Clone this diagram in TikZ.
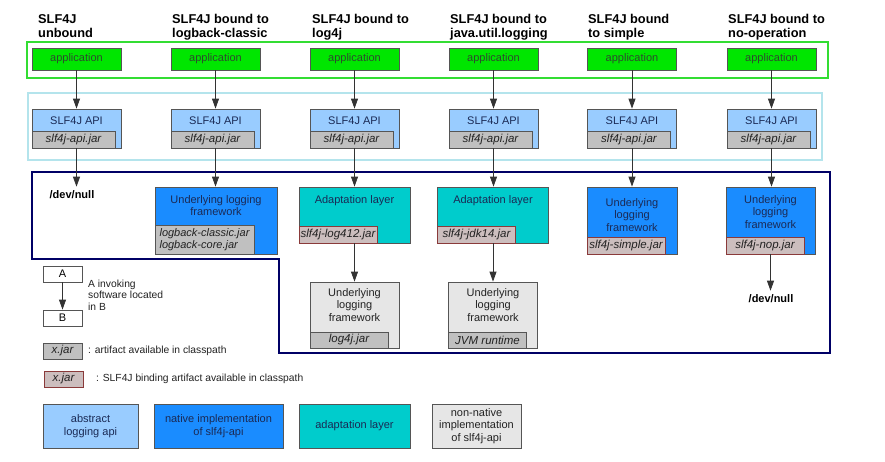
\documentclass[tikz,border=0pt]{standalone}
\usepackage{fontspec}
\setmainfont{Liberation Sans}
\usetikzlibrary{arrows.meta}

\definecolor{app-green}{HTML}{00E600}
\definecolor{app-frame}{HTML}{33DD33}
\definecolor{app-text}{HTML}{2E4A2E}
\definecolor{api-blue}{HTML}{99CCFF}
\definecolor{api-frame}{HTML}{B4E4EC}
\definecolor{native-blue}{HTML}{1A8CFF}
\definecolor{adapt-teal}{HTML}{00CCCC}
\definecolor{nonnative-grey}{HTML}{E6E6E6}
\definecolor{jar-grey}{HTML}{C0C0C0}
\definecolor{binding-pink}{HTML}{CCBEBE}
\definecolor{binding-edge}{HTML}{8A3A3A}
\definecolor{impl-frame}{HTML}{000066}
\definecolor{box-text}{HTML}{1A2A55}
\definecolor{box-edge}{HTML}{555555}
\definecolor{plain-text}{HTML}{222222}

\tikzstyle{box}=[rectangle, inner sep=0pt, line width=0.8pt, font=\fontsize{11}{12.5}\selectfont, align=center]
\tikzstyle{app-box}=[box, fill=app-green, draw=box-edge, minimum width=89pt, minimum height=22pt, text=app-text]
\tikzstyle{api-box}=[box, fill=api-blue, draw=box-edge, minimum width=89pt, minimum height=39pt]
\tikzstyle{native-box}=[box, fill=native-blue, draw=box-edge, minimum height=67pt]
\tikzstyle{adapt-box}=[box, fill=adapt-teal, draw=box-edge, minimum width=111pt, minimum height=56pt]
\tikzstyle{nonnative-box}=[box, fill=nonnative-grey, draw=box-edge, minimum width=89pt, minimum height=66pt]
\tikzstyle{plain-box}=[box, fill=white, draw=box-edge, minimum width=39pt, minimum height=16pt]
\tikzstyle{jar}=[box, font=\fontsize{11.5}{12}\selectfont\itshape, fill=jar-grey, draw=box-edge, minimum width=78pt, minimum height=17pt, anchor=south west, text=plain-text]
\tikzstyle{binding-jar}=[jar, fill=binding-pink, draw=binding-edge]
\tikzstyle{box-title}=[anchor=north, inner sep=0pt, yshift=-8.5pt, align=center, font=\fontsize{11}{12.5}\selectfont, text=box-text]
\tikzstyle{header}=[anchor=north west, inner sep=0pt, align=left, font=\fontsize{12.8}{13.5}\selectfont\bfseries]
\tikzstyle{dev-null}=[inner sep=4pt, font=\fontsize{11}{12}\selectfont\bfseries]
\tikzstyle{legend-text}=[anchor=west, inner sep=0pt, align=left, font=\fontsize{10.3}{11.5}\selectfont, text=plain-text]
\tikzstyle{call}=[draw=black!80, line width=0.8pt, -{Triangle[length=10pt,width=7pt]}]

\begin{document}
\begin{tikzpicture}[x=1pt, y=-1pt]
      \useasboundingbox[fill=white] (0,0) rectangle (885,461);

      % frames
      \draw[app-frame, line width=2pt] (27,42) rectangle (828,78);
      \draw[api-frame, line width=1.5pt] (28,93) rectangle (822,160);
      \draw[impl-frame, line width=2pt] (32,172) -- (830,172) -- (830,353) -- (279,353) -- (279,259) -- (32,259) -- cycle;

      % headers
      \node (head-1) at ( 38,14.5) [header] {SLF4J\\unbound};
      \node (head-2) at (172,14.5) [header] {SLF4J bound to\\logback-classic};
      \node (head-3) at (312,14.5) [header] {SLF4J bound to\\log4j};
      \node (head-4) at (450,14.5) [header] {SLF4J bound to\\java.util.logging};
      \node (head-5) at (588,14.5) [header] {SLF4J bound\\to simple};
      \node (head-6) at (728,14.5) [header] {SLF4J bound to\\no-operation};

      % application row
      \node (app-1) at ( 76.5,59) [app-box] {application};
      \node (app-2) at (215.5,59) [app-box] {application};
      \node (app-3) at (354.5,59) [app-box] {application};
      \node (app-4) at (493.5,59) [app-box] {application};
      \node (app-5) at (632,  59) [app-box] {application};
      \node (app-6) at (771.5,59) [app-box] {application};

      % slf4j api row
      \node (api-1) at ( 76.5,128.5) [api-box, label={[box-title]north:SLF4J API}] {};
      \node (api-2) at (215.5,128.5) [api-box, label={[box-title]north:SLF4J API}] {};
      \node (api-3) at (354.5,128.5) [api-box, label={[box-title]north:SLF4J API}] {};
      \node (api-4) at (493.5,128.5) [api-box, label={[box-title]north:SLF4J API}] {};
      \node (api-5) at (632,  128.5) [api-box, label={[box-title]north:SLF4J API}] {};
      \node (api-6) at (771.5,128.5) [api-box, label={[box-title]north:SLF4J API}] {};
      \node (apijar-1) at (api-1.south west) [jar, minimum width=83pt] {slf4j-api.jar};
      \node (apijar-2) at (api-2.south west) [jar, minimum width=83pt] {slf4j-api.jar};
      \node (apijar-3) at (api-3.south west) [jar, minimum width=83pt] {slf4j-api.jar};
      \node (apijar-4) at (api-4.south west) [jar, minimum width=83pt] {slf4j-api.jar};
      \node (apijar-5) at (api-5.south west) [jar, minimum width=83pt] {slf4j-api.jar};
      \node (apijar-6) at (api-6.south west) [jar, minimum width=83pt] {slf4j-api.jar};

      % bindings
      \node (devnull-1) at (72,195) [dev-null] {/dev/null};

      \node (native-2) at (216,220.5) [native-box, minimum width=122pt, label={[box-title]north:Underlying logging\\framework}] {};
      \node (nativejar-2) at (native-2.south west) [jar, font=\fontsize{11}{12}\selectfont\itshape, minimum width=99pt, minimum height=29pt, align=left] {logback-classic.jar\\logback-core.jar};

      \node (adapt-3) at (354.5,215) [adapt-box, label={[box-title]north:Adaptation layer}] {};
      \node (adaptjar-3) at (adapt-3.south west) [binding-jar] {slf4j-log412.jar};
      \node (nonnative-3) at (354.5,315) [nonnative-box, label={[box-title, yshift=2pt, text=plain-text]north:Underlying\\logging\\framework}] {};
      \node (nonnativejar-3) at (nonnative-3.south west) [jar, minimum height=16pt] {log4j.jar};

      \node (adapt-4) at (493,215) [adapt-box, label={[box-title]north:Adaptation layer}] {};
      \node (adaptjar-4) at (adapt-4.south west) [binding-jar] {slf4j-jdk14.jar};
      \node (nonnative-4) at (493,315) [nonnative-box, label={[box-title, yshift=2pt, text=plain-text]north:Underlying\\logging\\framework}] {};
      \node (nonnativejar-4) at (nonnative-4.south west) [jar, minimum height=16pt] {JVM runtime};

      \node (native-5) at (632,220.5) [native-box, minimum width=90pt, label={[box-title, yshift=-3pt]north:Underlying\\logging\\framework}] {};
      \node (nativejar-5) at (native-5.south west) [binding-jar] {slf4j-simple.jar};

      \node (native-6) at (770.5,220.5) [native-box, minimum width=89pt, label={[box-title]north:Underlying\\logging\\framework}] {};
      \node (nativejar-6) at (native-6.south west) [binding-jar] {slf4j-nop.jar};
      \node (devnull-6) at (771,299) [dev-null] {/dev/null};

      % calls
      \draw[call] (app-1.south) -- (api-1.north);
      \draw[call] (app-2.south) -- (api-2.north);
      \draw[call] (app-3.south) -- (api-3.north);
      \draw[call] (app-4.south) -- (api-4.north);
      \draw[call] (app-5.south) -- (api-5.north);
      \draw[call] (app-6.south) -- (api-6.north);
      \draw[call] (api-1.south) -- (api-1.south |- devnull-1.north);
      \draw[call] (api-2.south) -- (api-2.south |- native-2.north);
      \draw[call] (api-3.south) -- (adapt-3.north);
      \draw[call] (api-4.south) -- (api-4.south |- adapt-4.north);
      \draw[call] (api-5.south) -- (native-5.north);
      \draw[call] (api-6.south) -- (api-6.south |- native-6.north);
      \draw[call] (adapt-3.south) -- (nonnative-3.north);
      \draw[call] (adapt-4.south) -- (nonnative-4.north);
      \draw[call] (native-6.south) -- (native-6.south |- devnull-6.north);

      % legend
      \node (legend-a) at (62.5,274) [plain-box] {A};
      \node (legend-b) at (62.5,318) [plain-box] {B};
      \draw[call] (legend-a.south) -- (legend-b.north);
      \node (legend-call) at (88,295) [legend-text] {A invoking\\software located\\in B};

      \node (legend-jar) at (62.5,351) [jar, anchor=center, minimum width=39pt, minimum height=16pt] {x.jar};
      \node (legend-jar-text) at (88,351) [legend-text] {: artifact available in classpath};
      \node (legend-binding) at (63.5,379) [binding-jar, anchor=center, minimum width=39pt, minimum height=16pt] {x.jar};
      \node (legend-binding-text) at (96,379) [legend-text] {: SLF4J binding artifact available in classpath};

      \node (legend-api) at (90.5,426) [api-box, minimum width=95pt, minimum height=44pt, text=box-text] {abstract\\logging api};
      \node (legend-native) at (218.5,426) [native-box, minimum width=129pt, minimum height=44pt, text=box-text] {native implementation\\of slf4j-api};
      \node (legend-adapt) at (354.5,426) [adapt-box, minimum height=44pt, text=box-text] {adaptation layer};
      \node (legend-nonnative) at (476.5,426) [nonnative-box, minimum height=44pt, text=plain-text] {non-native\\implementation\\of slf4j-api};
    \end{tikzpicture}
\end{document}
